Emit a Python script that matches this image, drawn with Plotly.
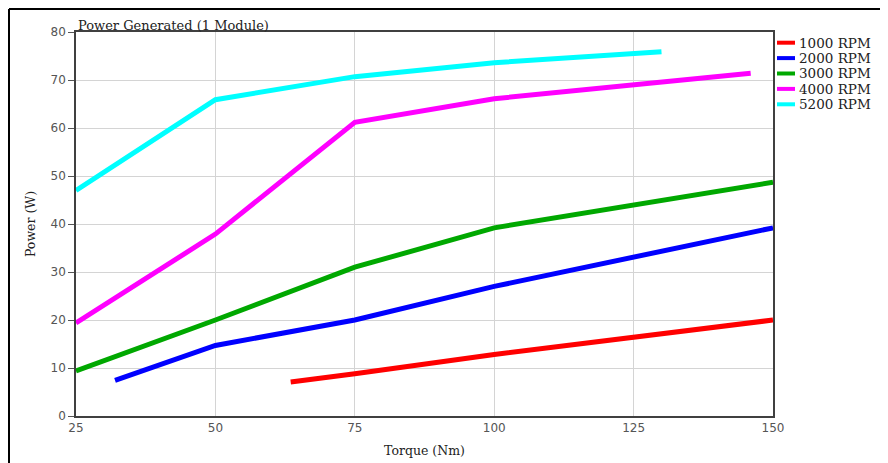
import plotly.graph_objects as go

series_names = ["1000 RPM", "2000 RPM", "3000 RPM", "4000 RPM", "5200 RPM"]
colors = ["#ff0000", "#0000ff", "#00a800", "#ff00ff", "#00ffff"]

torque_1000 = [63.5, 75, 100, 150]
power_1000 = [7.1, 8.8, 12.8, 20.0]
torque_2000 = [32, 50, 75, 100, 150]
power_2000 = [7.4, 14.7, 20.0, 27.0, 39.2]
torque_3000 = [25, 50, 75, 100, 150]
power_3000 = [9.4, 20.0, 31.0, 39.2, 48.7]
torque_4000 = [25, 50, 75, 100, 146]
power_4000 = [19.4, 37.9, 61.2, 66.1, 71.4]
torque_5200 = [25, 50, 75, 100, 130]
power_5200 = [47.0, 65.9, 70.7, 73.6, 75.9]

xs = [torque_1000, torque_2000, torque_3000, torque_4000, torque_5200]
ys = [power_1000, power_2000, power_3000, power_4000, power_5200]

x_ticks = [25, 50, 75, 100, 125, 150]
y_ticks = [0, 10, 20, 30, 40, 50, 60, 70, 80]

fig = go.Figure()
for name, c, x, y in zip(series_names, colors, xs, ys):
    fig.add_trace(go.Scatter(x=x, y=y, mode="lines", name=name,
                             line=dict(color=c, width=5), showlegend=False))

serif = "DejaVu Serif, serif"
tickfont = dict(family="DejaVu Sans, Verdana, sans-serif", size=12, color="#555555")
text_color = "#222222"

# plot area in screen pixels (page has 8px body margin)
PW, PH = 697, 384

annotations = [dict(text="Power Generated (1 Module)", xref="paper", yref="paper",
                    x=0, y=1, xanchor="left", yanchor="bottom", showarrow=False,
                    font=dict(family=serif, size=13, color=text_color), yshift=-3)]
shapes = [
    dict(type="line", xref="paper", yref="paper", x0=-67/PW, x1=-67/PW,
         y0=-60/PH, y1=1 + 23/PH, line=dict(color="black", width=2)),
    dict(type="line", xref="paper", yref="paper", x0=-67/PW, x1=1 + 130/PW,
         y0=1 + 23/PH, y1=1 + 23/PH, line=dict(color="black", width=2)),
]
# manual legend
for i, (name, c) in enumerate(zip(series_names, colors)):
    yc = 1 - (10.7 + 15.4 * i) / PH
    shapes.append(dict(type="line", xref="paper", yref="paper",
                       x0=1 + 4/PW, x1=1 + 22/PW, y0=yc, y1=yc,
                       line=dict(color=c, width=4)))
    annotations.append(dict(text=name, xref="paper", yref="paper",
                            x=1 + 24/PW, y=yc, xanchor="left", yanchor="middle",
                            showarrow=False,
                            font=dict(family=serif, size=13.5, color=text_color)))

fig.update_layout(
    width=888, height=463,
    margin=dict(l=68, r=123, t=24, b=55),
    paper_bgcolor="white", plot_bgcolor="white",
    showlegend=False,
    xaxis=dict(range=[25, 150], tickvals=x_ticks, showgrid=True,
               gridcolor="#d4d4d4", gridwidth=1, zeroline=False,
               showline=True, linecolor="#404040", linewidth=1.5, mirror=True,
               ticks="", tickfont=tickfont,
               title=dict(text="Torque (Nm)", font=dict(family=serif, size=12.5, color=text_color),
                          standoff=12)),
    yaxis=dict(range=[0, 80], tickvals=y_ticks, showgrid=True,
               gridcolor="#d4d4d4", gridwidth=1, zeroline=False,
               showline=True, linecolor="#404040", linewidth=1.5, mirror=True,
               ticks="outside", ticklen=6, tickcolor="#555555", tickfont=tickfont,
               title=dict(text="Power (W)", font=dict(family=serif, size=12.5, color=text_color),
                          standoff=12)),
    annotations=annotations,
    shapes=shapes,
)

fig.write_html("out.html")
